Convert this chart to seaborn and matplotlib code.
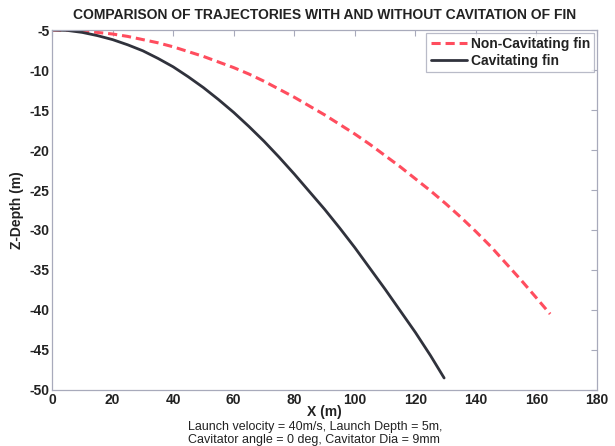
import numpy as np
import pandas as pd
import matplotlib
matplotlib.use("Agg")
import matplotlib.pyplot as plt
import seaborn as sns

# Non-cavitating fin trajectory
x_noncav = [0, 5, 10, 15, 20, 25, 30, 35, 40, 45, 50, 55, 60, 65, 70, 75, 80, 85, 90,
            95, 100, 105, 110, 115, 120, 125, 130, 135, 140, 145, 150, 155, 160, 164.5]
z_noncav = [-5, -5.03, -5.1, -5.3, -5.5, -5.8, -6.2, -6.6, -7.1, -7.7, -8.3, -9.0, -9.7,
            -10.5, -11.4, -12.4, -13.4, -14.5, -15.6, -16.8, -18.0, -19.3, -20.7, -22.1,
            -23.6, -25.1, -26.7, -28.4, -30.2, -32.1, -34.2, -36.3, -38.5, -40.5]

# Cavitating fin trajectory
x_cav = [0, 5, 10, 15, 20, 25, 30, 35, 40, 45, 50, 55, 60, 65, 70, 75, 80, 85, 90, 95,
         100, 105, 110, 115, 120, 125, 129.5]
z_cav = [-5, -5.05, -5.3, -5.7, -6.2, -6.85, -7.6, -8.55, -9.6, -10.85, -12.2, -13.7,
         -15.3, -17.05, -18.9, -20.9, -23.0, -25.2, -27.4, -29.75, -32.2, -34.8, -37.4,
         -40.1, -42.8, -45.7, -48.5]

x_ticks = [0, 20, 40, 60, 80, 100, 120, 140, 160, 180]
y_ticks = [-5, -10, -15, -20, -25, -30, -35, -40, -45, -50]

sns.set_style("white")
plt.rcParams['font.family'] = ['Liberation Sans', 'DejaVu Sans']
plt.rcParams['axes.unicode_minus'] = False

df_non = pd.DataFrame({'x': x_noncav, 'z': z_noncav})
df_cav = pd.DataFrame({'x': x_cav, 'z': z_cav})

fig = plt.figure(figsize=(6.15, 4.46), dpi=100)
ax = fig.add_axes([0.0846, 0.1256, 0.8862, 0.8071])

sns.lineplot(data=df_non, x='x', y='z', ax=ax, color='#ff4d5e', linewidth=2.2,
             linestyle=(0, (3, 1.6)), label='Non-Cavitating fin', sort=False)
sns.lineplot(data=df_cav, x='x', y='z', ax=ax, color='#30323c', linewidth=2.0,
             label='Cavitating fin', sort=False)

ax.set_xlim(0, 180)
ax.set_ylim(-50, -5)
ax.set_xticks(x_ticks)
ax.set_yticks(y_ticks)

spine_col = '#a8aabb'
for s in ax.spines.values():
    s.set_color(spine_col)
    s.set_linewidth(0.9)
ax.tick_params(direction='in', length=4, color=spine_col, top=True, right=True,
               labelsize=10, pad=2)
for lab in ax.get_xticklabels() + ax.get_yticklabels():
    lab.set_fontweight('bold')
    lab.set_color('#222222')

ax.set_title('COMPARISON OF TRAJECTORIES WITH AND WITHOUT CAVITATION OF FIN',
             fontsize=10, fontweight='bold', color='#222222', pad=8)
ax.set_xlabel('X (m)', fontsize=10, fontweight='bold', color='#222222', labelpad=-1)
ax.set_ylabel('Z-Depth (m)', fontsize=10, fontweight='bold', color='#222222', labelpad=4)

fig.text(0.305, 0.042, 'Launch velocity = 40m/s, Launch Depth = 5m,',
         fontsize=9, color='#222222', ha='left', va='center')
fig.text(0.305, 0.013, 'Cavitator angle = 0 deg, Cavitator Dia = 9mm',
         fontsize=9, color='#222222', ha='left', va='center')

leg = ax.legend(loc='upper right', frameon=True, fancybox=False, fontsize=10,
                borderaxespad=0.2, handlelength=2.6, handletextpad=0.3,
                borderpad=0.3, labelspacing=0.2)
leg.get_frame().set_edgecolor(spine_col)
leg.get_frame().set_linewidth(0.9)
for t in leg.get_texts():
    t.set_fontweight('bold')
    t.set_color('#222222')

fig.savefig('out.png', dpi=100)
